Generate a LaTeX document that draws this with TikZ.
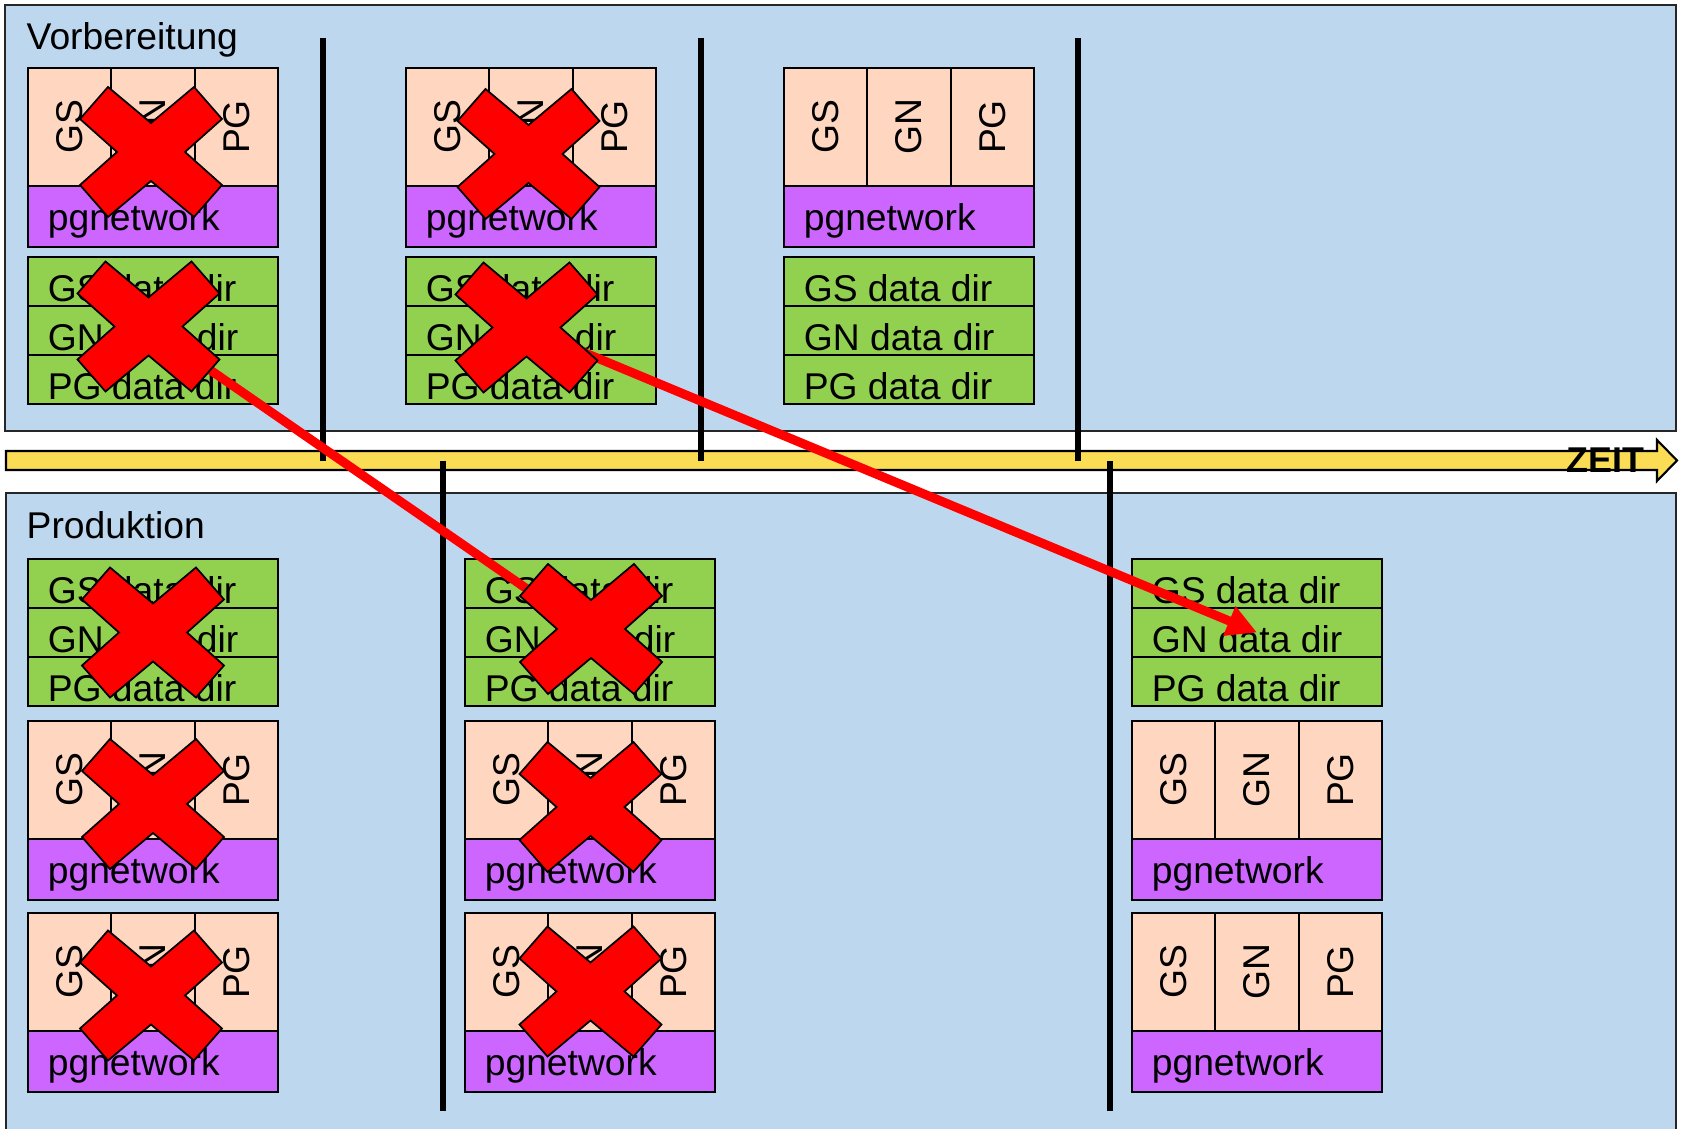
\documentclass[tikz,border=0pt]{standalone}
\usepackage{fontspec}
\setmainfont{Liberation Sans}
\usetikzlibrary{arrows.meta,calc}

\definecolor{panelblue}{RGB}{189,215,238}
\definecolor{peach}{RGB}{255,214,192}
\definecolor{netpurple}{RGB}{204,102,255}
\definecolor{dirgreen}{RGB}{146,208,80}
\definecolor{zeityellow}{RGB}{250,220,85}

\tikzset{
    phase/.style={draw=black!85, line width=0.6pt, fill=panelblue},
    cell/.style={draw, line width=0.5pt, fill=peach, rotate=90, inner sep=0pt,
        minimum width=11.8mm, minimum height=8.33mm, font=\fontsize{10.6}{12}\selectfont},
    netbar/.style={draw, line width=0.5pt, fill=netpurple, inner sep=0pt,
        minimum width=25mm, minimum height=6.1mm},
    dirrow/.style={draw, line width=0.5pt, fill=dirgreen, inner sep=0pt,
        minimum width=25mm, minimum height=4.9mm},
    txt/.style={inner sep=0pt, anchor=base west, font=\fontsize{10.6}{12}\selectfont},
    cut/.style={line width=1.8pt},
    move/.style={red, line width=0.9mm, -{Triangle[length=3mm,width=3mm]}},
    killed/.pic={
        \draw[fill=red, line width=0.5pt] (-71,-33) -- (-43,-65) -- (0,-29) -- (43,-65)
            -- (71,-33) -- (34,0) -- (71,33) -- (43,65) -- (0,29) -- (-43,65)
            -- (-71,33) -- (-34,0) -- cycle;
    }
}

\begin{document}
\begin{tikzpicture}[x=0.1mm, y=-0.1mm]
    \clip (0,0) rectangle (1684,1129);

    % the two phases
    \draw[phase] (5,5) rectangle (1676,431);
    \draw[phase] (6,493) rectangle (1676,1140);
    \node[txt] (vorb) at (26,50) {Vorbereitung};
    \node[txt] (prod) at (26,539) {Produktion};

    % time axis
    \draw[fill=zeityellow, line width=0.6pt] (6,451) -- (1657,451) -- (1657,440)
        -- (1677,460.5) -- (1657,481) -- (1657,470) -- (6,470) -- cycle;
    \node[inner sep=0pt, anchor=base east, font=\bfseries\fontsize{10.2}{11}\selectfont]
        (zeit) at (1645,473) {ZEIT};

    % cuts on the time axis
    \foreach \x in {323, 701, 1078} {
        \draw[cut] (\x,38) -- (\x,461);
    }
    \foreach \x in {443, 1110} {
        \draw[cut] (\x,461) -- (\x,1111);
    }

    % instances: GS, GN, PG on pgnetwork
    \foreach \n/\x/\y in {v1/28/68, v2/406/68, v3/784/68,
                          p1a/28/721, p1b/28/913, p2a/465/721,
                          p2b/465/913, p3a/1132/721, p3b/1132/913} {
        \node[cell] (gs\n) at (\x+41.67,\y+59) {GS};
        \node[cell] (gn\n) at (\x+125,\y+59) {GN};
        \node[cell] (pg\n) at (\x+208.33,\y+59) {PG};
        \node[netbar] (net\n) at (\x+125,\y+148.5) {};
        \node[txt] (netlbl\n) at ([shift={(20,-17)}]net\n.south west) {pgnetwork};
    }

    % data directories
    \foreach \n/\x/\y in {v1/28/257, v2/406/257, v3/784/257,
                          p1/28/559, p2/465/559, p3/1132/559} {
        \node[dirrow] (gsdir\n) at (\x+125,\y+24.5) {};
        \node[dirrow] (gndir\n) at (\x+125,\y+73.5) {};
        \node[dirrow] (pgdir\n) at (\x+125,\y+122.5) {};
        \node[txt] (gslbl\n) at ([shift={(20,-5)}]gsdir\n.south west) {GS data dir};
        \node[txt] (gnlbl\n) at ([shift={(20,-5)}]gndir\n.south west) {GN data dir};
        \node[txt] (pglbl\n) at ([shift={(20,-5)}]pgdir\n.south west) {PG data dir};
    }

    % data dirs taken over into production
    \draw[move] (gndirv1.center) -- (gndirp2.center);
    \draw[move] (gndirv2.center) -- (gndirp3.center);

    % removed parts
    \foreach \x/\y in {151/152, 148.5/326.5, 528.5/154, 526.5/327.5,
                       153/632.5, 153/804, 151/995.5,
                       591/629, 590.5/807, 590.5/991.5} {
        \pic at (\x,\y) {killed};
    }
\end{tikzpicture}
\end{document}
